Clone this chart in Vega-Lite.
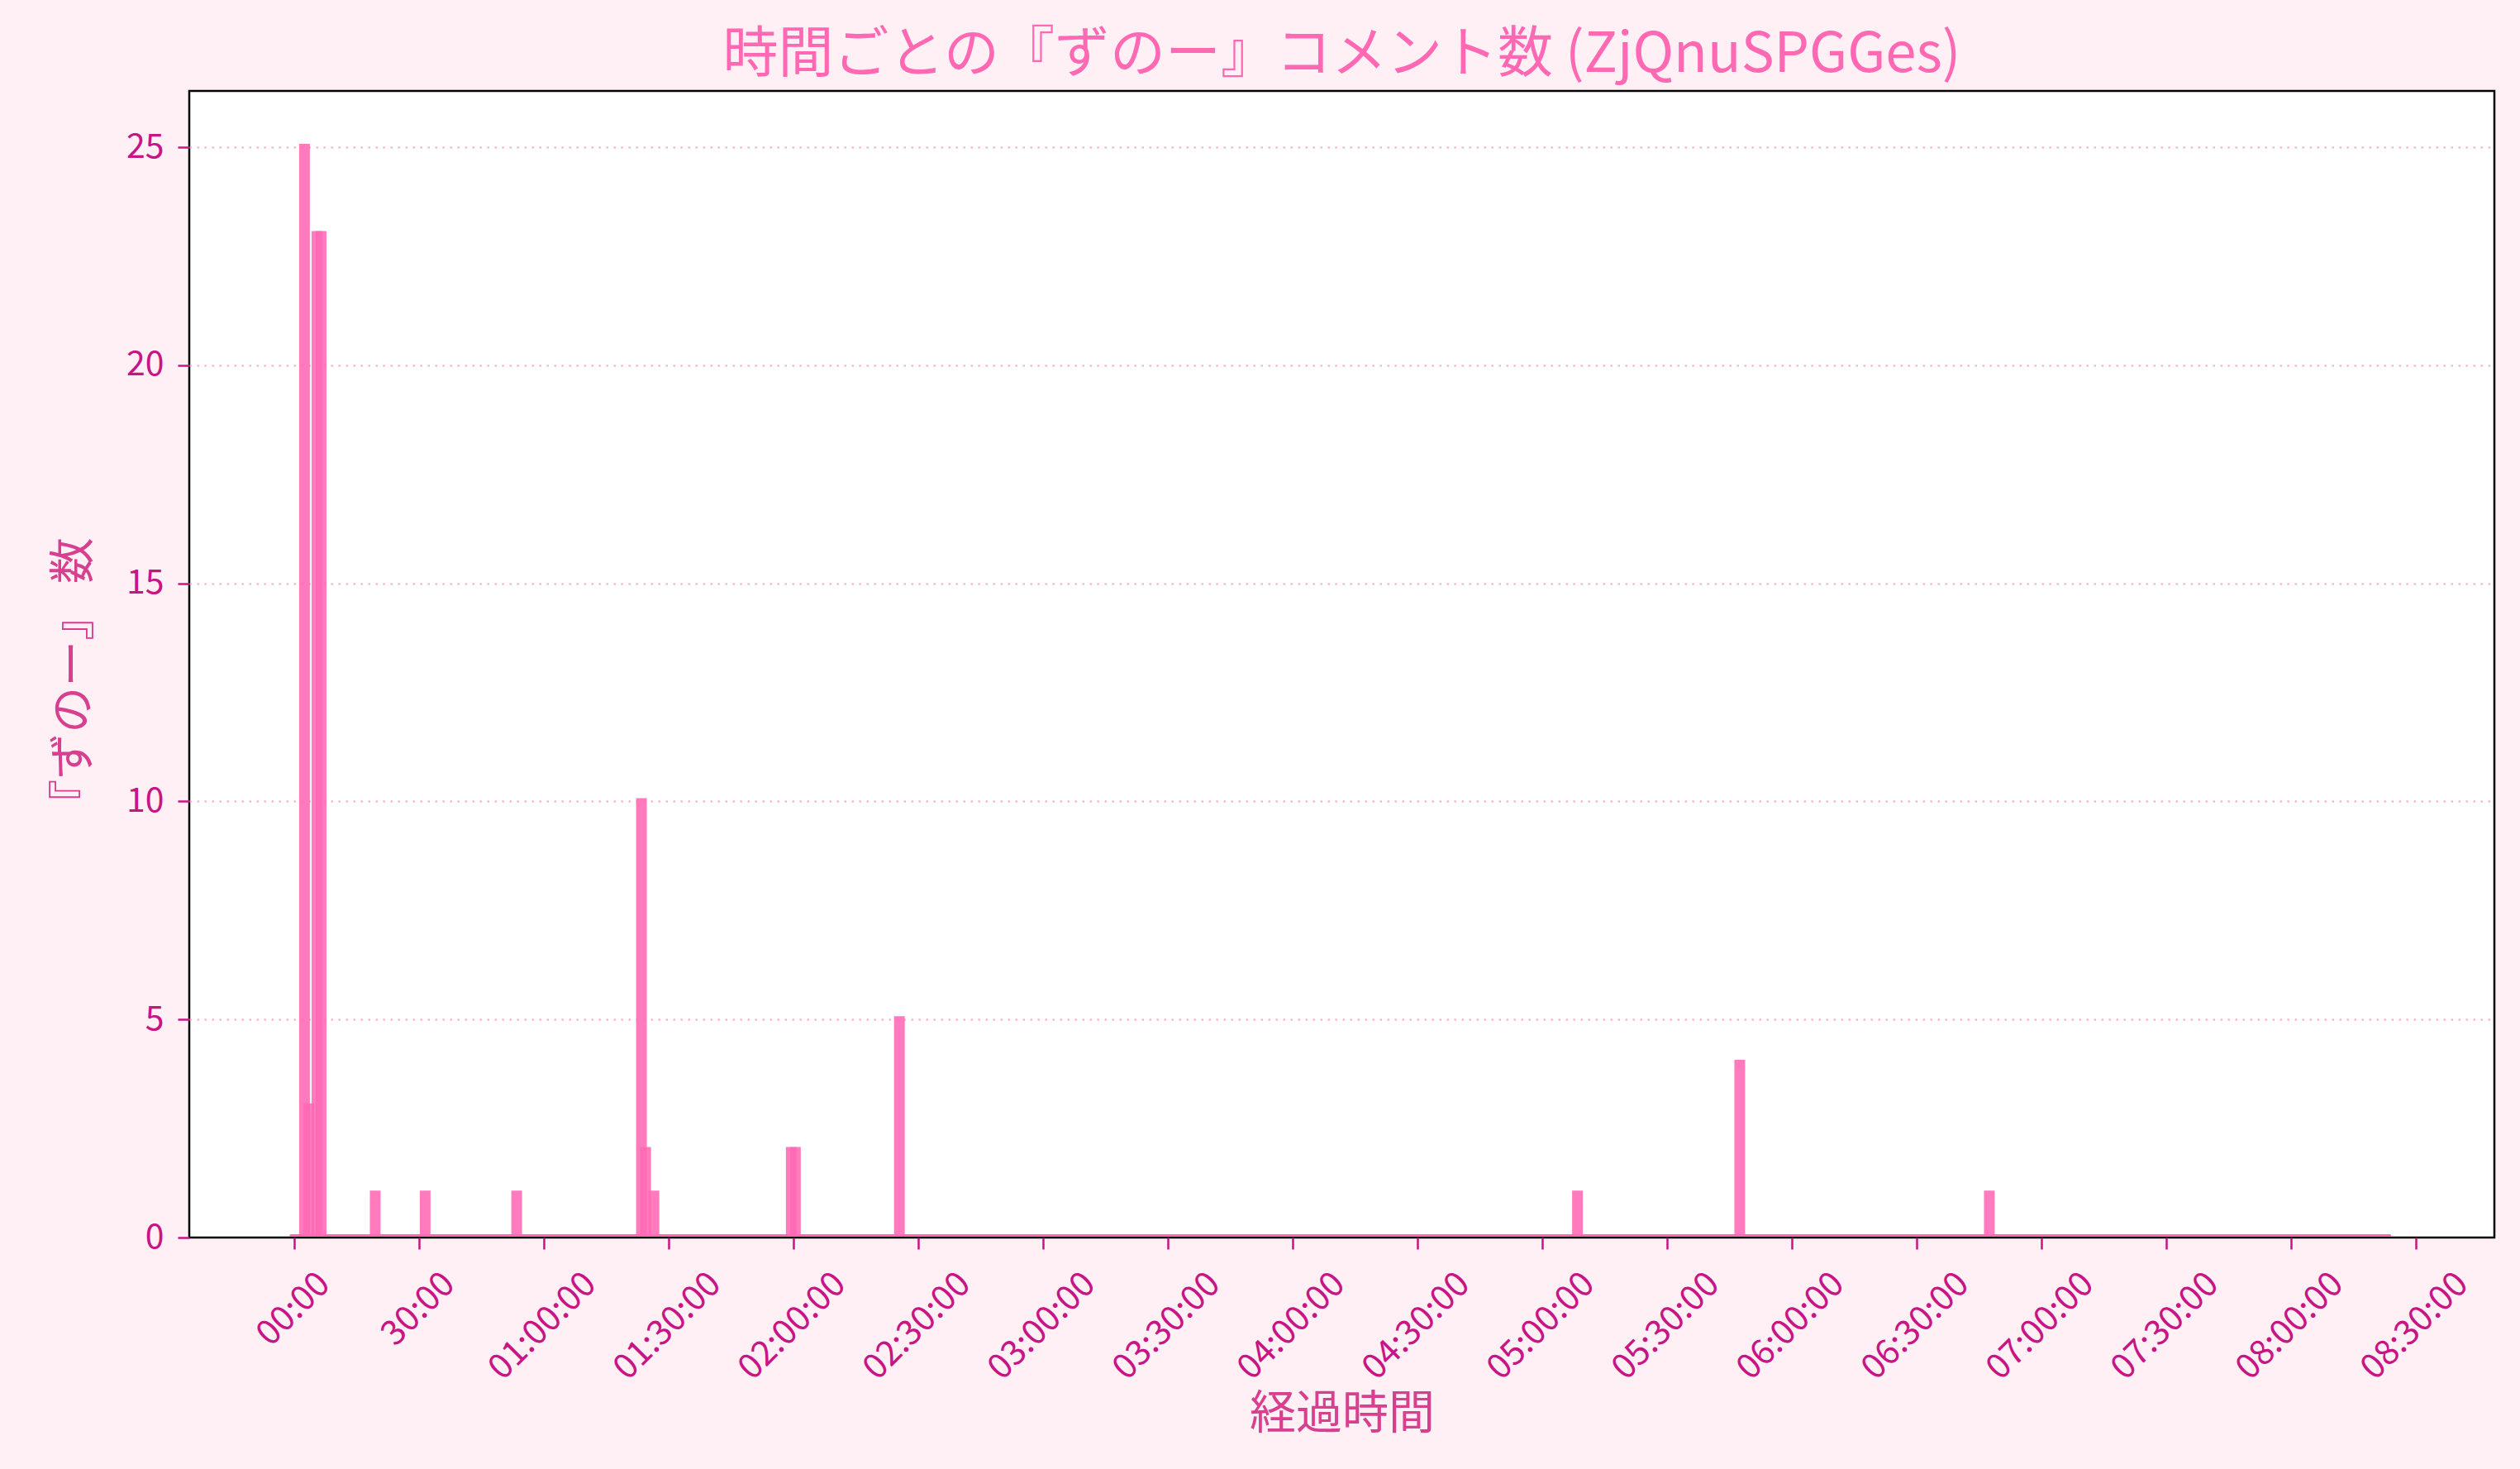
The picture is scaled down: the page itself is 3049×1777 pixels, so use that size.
{
  "$schema": "https://vega.github.io/schema/vega-lite/v6.json",
  "width": 2789,
  "height": 1387,
  "autosize": {"type": "none"},
  "padding": {"left": 229, "top": 110, "right": 31, "bottom": 280},
  "background": "#FFF0F5",
  "config": {
    "view": {"fill": "white", "stroke": "black", "strokeWidth": 2.5},
    "font": "Noto Sans CJK JP"
  },
  "title": {
    "text": "時間ごとの『ずのー』コメント数 (ZjQnuSPGGes)",
    "fontSize": 67,
    "fontWeight": "normal",
    "color": "#FF69B4",
    "anchor": "middle",
    "frame": "group",
    "baseline": "middle",
    "offset": -24
  },
  "encoding": {
    "x": {
      "field": "x0",
      "type": "quantitative",
      "scale": {"domain": [-25.2, 528.9], "nice": false, "zero": false},
      "axis": {
        "title": "経過時間",
        "values": [0, 30, 60, 90, 120, 150, 180, 210, 240, 270, 300, 330, 360, 390, 420, 450, 480, 510],
        "labelExpr": "datum.value < 60 ? (datum.value < 10 ? '0' : '') + datum.value + ':00' : '0' + floor(datum.value / 60) + ':' + (datum.value % 60 < 10 ? '0' : '') + (datum.value % 60) + ':00'",
        "labelAngle": -45,
        "labelAlign": "right",
        "labelBaseline": "middle",
        "labelOffset": {"condition": {"test": "datum.value < 60", "value": 36}, "value": 56},
        "labelPadding": 35,
        "labelFontSize": 42,
        "labelColor": "#C71585",
        "labelOverlap": false,
        "labelFlush": false,
        "labelBound": false,
        "tickColor": "#C71585",
        "tickSize": 14,
        "tickWidth": 2.5,
        "domain": false,
        "grid": false,
        "titleFontSize": 56,
        "titleFontWeight": "normal",
        "titleColor": "#D6408F",
        "titleY": 213,
        "titleBaseline": "middle"
      }
    },
    "x2": {"field": "x1"},
    "y": {
      "field": "count",
      "type": "quantitative",
      "scale": {"domain": [0, 26.29], "nice": false},
      "axis": {
        "title": "『ずのー』 数",
        "values": [0, 5, 10, 15, 20, 25],
        "labelFontSize": 41,
        "labelColor": "#C71585",
        "labelPadding": 17,
        "tickColor": "#C71585",
        "tickSize": 14,
        "tickWidth": 2.5,
        "domain": false,
        "grid": true,
        "gridColor": "#FFA8CC",
        "gridOpacity": {"condition": {"test": "datum.value === 0", "value": 0}, "value": 1},
        "gridDash": [2.5, 6.5],
        "gridWidth": 2.2,
        "titleFontSize": 56,
        "titleFontWeight": "normal",
        "titleColor": "#D6408F",
        "titleX": -140,
        "titleY": 714,
        "titleAlign": "center",
        "titleBaseline": "middle",
        "titleAngle": -90
      }
    }
  },
  "layer": [
    {
      "data": {
        "values": [
          {"minute": 2, "count": 25},
          {"minute": 3, "count": 3},
          {"minute": 5, "count": 23},
          {"minute": 6, "count": 23},
          {"minute": 19, "count": 1},
          {"minute": 31, "count": 1},
          {"minute": 53, "count": 1},
          {"minute": 83, "count": 10},
          {"minute": 84, "count": 2},
          {"minute": 86, "count": 1},
          {"minute": 119, "count": 2},
          {"minute": 120, "count": 2},
          {"minute": 145, "count": 5},
          {"minute": 308, "count": 1},
          {"minute": 347, "count": 4},
          {"minute": 407, "count": 1}
        ]
      },
      "transform": [
        {"calculate": "datum.minute + 0.5 - 1.29", "as": "x0"},
        {"calculate": "datum.minute + 0.5 + 1.29", "as": "x1"}
      ],
      "mark": {"type": "bar", "color": "#FF69B4", "opacity": 0.88, "yOffset": -4, "y2Offset": -2},
      "encoding": {"y2": {"datum": 0}}
    },
    {
      "data": {"values": [{"start_min": 0, "end_min": 503, "count": 0}]},
      "transform": [
        {"calculate": "datum.start_min + 0.5 - 1.29", "as": "x0"},
        {"calculate": "datum.end_min - 0.5 + 1.29", "as": "x1"}
      ],
      "mark": {"type": "rule", "color": "#FF69B4", "strokeWidth": 3, "strokeCap": "round", "yOffset": -2.5, "opacity": 1}
    }
  ]
}
